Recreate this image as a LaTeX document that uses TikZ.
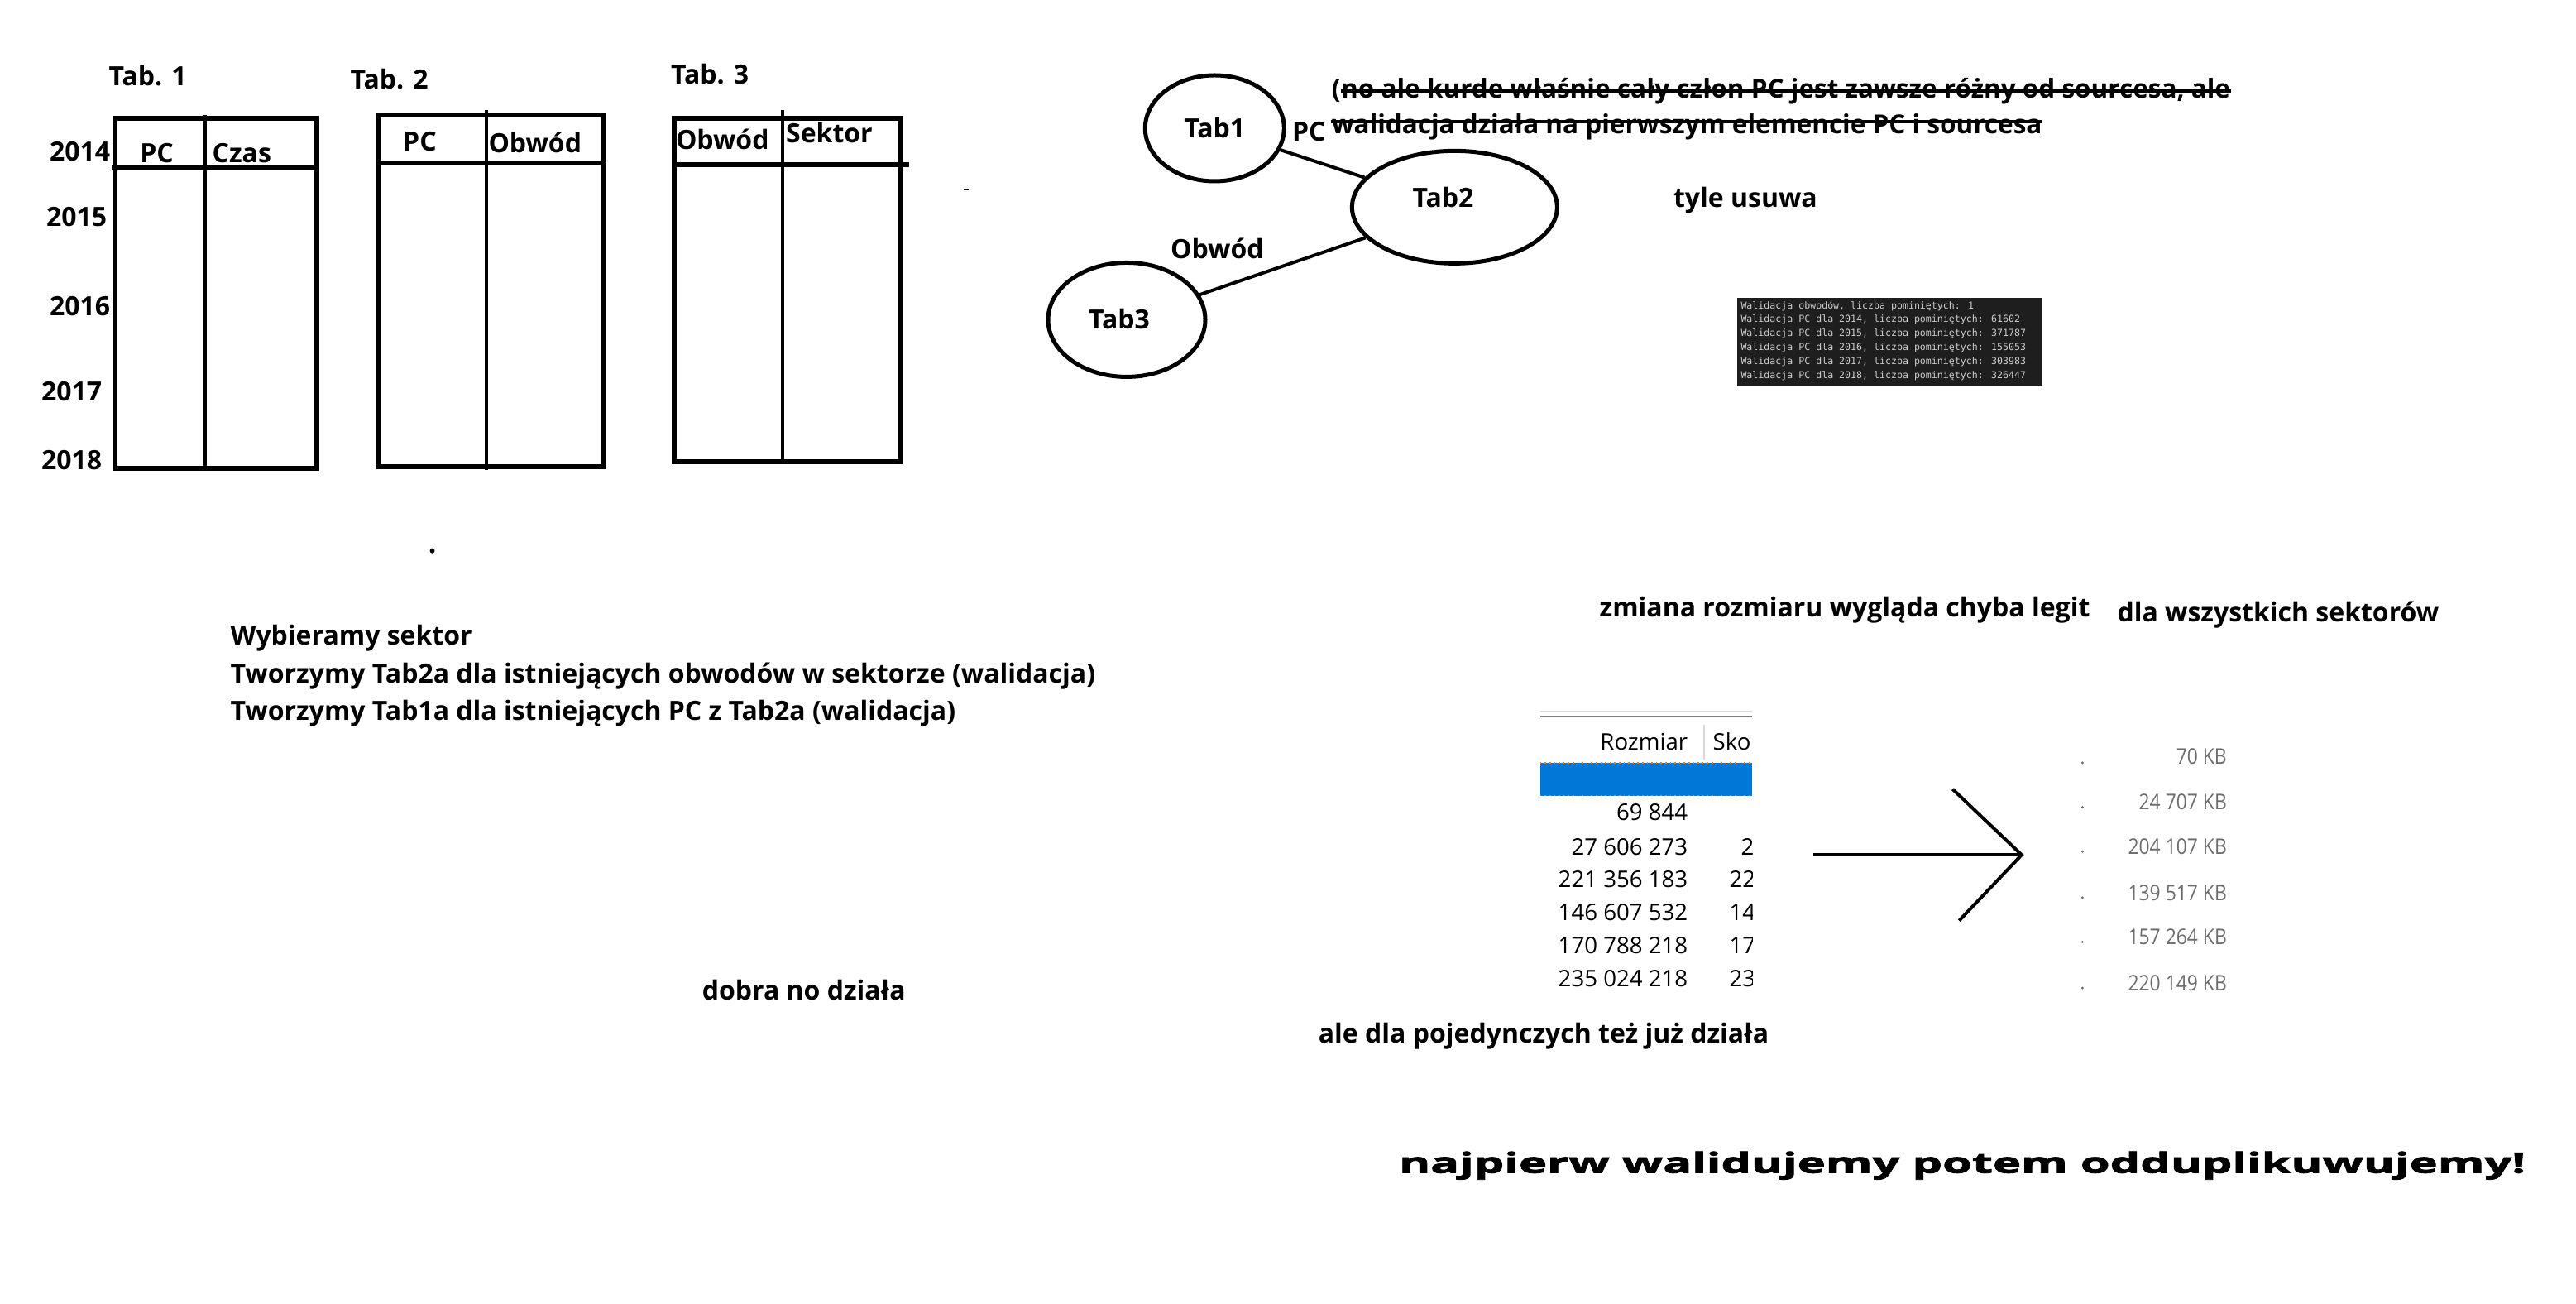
\documentclass[tikz,border=0pt]{standalone}
\usepackage{fontspec}
\setmainfont{Open Sans}
\newfontfamily\monof{DejaVu Sans Mono}
\newfontfamily\widef{Open Sans}[FakeStretch=1.70,FakeBold=2.5]
\newfontfamily\narrowf{Open Sans}[FakeStretch=0.88]
\usetikzlibrary{shapes.geometric}
\definecolor{consolebg}{HTML}{1E1E1E}
\definecolor{consolefg}{HTML}{CCCCCC}
\definecolor{selblue}{HTML}{0078D7}
\definecolor{kbgray}{HTML}{6D6D6D}
\definecolor{sepgray}{HTML}{D9D9D9}
\tikzset{
  hand/.style={font=\bfseries\fontsize{16}{19}\selectfont, inner sep=0pt, anchor=west},
  handc/.style={font=\bfseries\fontsize{16}{19}\selectfont, inner sep=0pt},
  handstrike/.style={font=\bfseries\fontsize{15.75}{19}\selectfont, inner sep=0pt, anchor=west},
  tbl/.style={line width=3pt},
  tbldiv/.style={line width=2pt},
  blob/.style={ellipse, draw, line width=2.5pt, inner sep=0pt},
  conn/.style={line width=2pt},
  strike/.style={line width=2pt},
  shot/.style={font=\fontsize{13.8}{16}\selectfont, inner sep=0pt, anchor=east},
  kb/.style={font=\narrowf\fontsize{13}{15}\selectfont, text=kbgray, inner sep=0pt, anchor=east},
  cons/.style={font=\monof\fontsize{5.8}{7}\selectfont, text=consolefg, inner sep=0pt, anchor=west}
}
\begin{document}
\begin{tikzpicture}[x=0.9934pt,y=-0.9934pt]
\useasboundingbox (0,0) rectangle (1567.3,793.2);
% ---------- tables ----------
\node[hand] (lt1) at (66,46) {Tab. 1};
\node[hand] (lt2) at (213,48) {Tab. 2};
\node[hand] (lt3) at (408,45) {Tab. 3};
\node[hand] (y14) at (30,92) {2014};
\node[hand] (y15) at (28,132) {2015};
\node[hand] (y16) at (30,186) {2016};
\node[hand] (y17) at (25,238) {2017};
\node[hand] (y18) at (25,280) {2018};
% table 1
\draw[tbl] (70,72) rectangle (193,285);
\draw[tbl] (68,102) -- (193,102);
\draw[tbldiv] (125,70) -- (125,285);
\node[hand] (h1a) at (85,93) {PC};
\node[hand] (h1b) at (129,93) {Czas};
% table 2
\draw[tbl] (230,70) rectangle (367,284);
\draw[tbl] (230,99) -- (369,99);
\draw[tbldiv] (296,67) -- (296,286);
\node[hand] (h2a) at (245,86) {PC};
\node[hand] (h2b) at (297,87) {Obwód};
% table 3
\draw[tbl] (410,72) rectangle (548,281);
\draw[tbl] (410,100) -- (553,100);
\draw[tbldiv] (476,67) -- (476,281);
\node[hand] (h3a) at (411,85) {Obwód};
\node[hand] (h3b) at (478,81) {Sektor};
\fill (586.5,114.5) rectangle (589.5,116);
\fill (263,335) circle (1.5);
% ---------- graph ----------
\node[blob, minimum width=84pt, minimum height=64pt] (t1) at (739,78) {};
\node[blob, minimum width=124pt, minimum height=68pt] (t2) at (885,126) {};
\node[blob, minimum width=95pt, minimum height=69pt] (t3) at (685.5,194.5) {};
\node[handc] (t1l) at (739,78) {Tab1};
\node[handc] (t2l) at (878,120) {Tab2};
\node[handc] (t3l) at (681,194) {Tab3};
\draw[conn] (t1) -- (t2);
\draw[conn] (t3) -- (t2);
\node[hand] (lpc) at (786,80) {PC};
\node[hand] (lob) at (712,151) {Obwód};
\node[handstrike] (s1p) at (810,55) {(};
\node[handstrike, anchor=base west] (s1) at (s1p.base east) {no ale kurde właśnie cały człon PC jest zawsze różny od sourcesa, ale};
\node[handstrike] (s2) at (810,77) {walidacja działa na pierwszym elemencie PC i sourcesa};
\draw[strike] ([yshift=4pt]s1.base west) -- ([yshift=4pt]s1.base east);
\draw[strike] ([yshift=7pt]s2.base west) -- ([yshift=7pt]s2.base east);
\node[hand] (tyle) at (1018,122) {tyle usuwa};
% console screenshot
\fill[consolebg] (1057,181) rectangle (1242,235);
\node[cons] (c1) at (1059,186) {Walidacja obwodów, liczba pominiętych:  1};
\node[cons] (c2) at (1059,194.5) {Walidacja PC dla 2014, liczba pominiętych:  61602};
\node[cons] (c3) at (1059,203) {Walidacja PC dla 2015, liczba pominiętych:  371787};
\node[cons] (c4) at (1059,211.5) {Walidacja PC dla 2016, liczba pominiętych:  155053};
\node[cons] (c5) at (1059,220) {Walidacja PC dla 2017, liczba pominiętych:  303983};
\node[cons] (c6) at (1059,228.5) {Walidacja PC dla 2018, liczba pominiętych:  326447};
% ---------- notes ----------
\node[hand] (n1) at (140,388) {Wybieramy sektor};
\node[hand] (n2) at (140,411) {Tworzymy Tab2a dla istniejących obwodów w sektorze (walidacja)};
\node[hand] (n3) at (140,434) {Tworzymy Tab1a dla istniejących PC z Tab2a (walidacja)};
\node[hand] (zm) at (973,371) {zmiana rozmiaru wygląda chyba legit};
\node[hand] (dw) at (1288,374) {dla wszystkich sektorów};
\node[hand] (dob) at (427,602) {dobra no działa};
\node[hand] (ale) at (802,630) {ale dla pojedynczych też już działa};
\node[inner sep=0pt, anchor=west, font=\widef\bfseries\fontsize{17}{20}\selectfont] (naj) at (851,709) {najpierw walidujemy potem odduplikuwujemy!};
% ---------- file size screenshot ----------
\draw[sepgray, line width=1pt] (937,433) -- (1066,433);
\draw[gray, line width=1pt] (937,436) -- (1066,436);
\draw[sepgray, line width=1pt] (1037,441) -- (1037,462);
\node[shot] (rz) at (1027,451) {Rozmiar};
\begin{scope}
\clip (937,430) rectangle (1066,610);
\node[shot, anchor=west] (sk) at (1042,451) {Sko};
\fill[selblue] (937,464) rectangle (1066,484);
\draw[orange, dotted, line width=0.8pt] (937,464) -- (1066,464);
\draw[orange, dotted, line width=0.8pt] (937,484) -- (1066,484);
\node[shot] (r1) at (1027,494) {69 844};
\node[shot] (r2) at (1027,515) {27 606 273};
\node[shot] (r3) at (1027,535) {221 356 183};
\node[shot] (r4) at (1027,555) {146 607 532};
\node[shot] (r5) at (1027,575) {170 788 218};
\node[shot] (r6) at (1027,595) {235 024 218};
\node[shot, anchor=west] (q2) at (1059,515) {27};
\node[shot, anchor=west] (q3) at (1052,535) {221};
\node[shot, anchor=west] (q4) at (1052,555) {146};
\node[shot, anchor=west] (q5) at (1052,575) {170};
\node[shot, anchor=west] (q6) at (1052,595) {235};
\end{scope}
% arrow
\coordinate (as) at (1103,520);
\coordinate (ae) at (1230,520);
\coordinate (au) at (1188,480);
\coordinate (ad) at (1192,560);
\draw[line width=2pt] (as) -- (ae);
\draw[line width=2pt, line join=miter] (au) -- (ae) -- (ad);
% KB column
\node[kb] (k1) at (1355,460) {70 KB};
\node[kb] (k2) at (1355,488) {24 707 KB};
\node[kb] (k3) at (1355,515) {204 107 KB};
\node[kb] (k4) at (1355,543) {139 517 KB};
\node[kb] (k5) at (1355,570) {157 264 KB};
\node[kb] (k6) at (1355,598) {220 149 KB};
\foreach \yy in {464,491,518,546,573,601} \fill[kbgray] (1267,\yy) circle (0.8);
\end{tikzpicture}
\end{document}
